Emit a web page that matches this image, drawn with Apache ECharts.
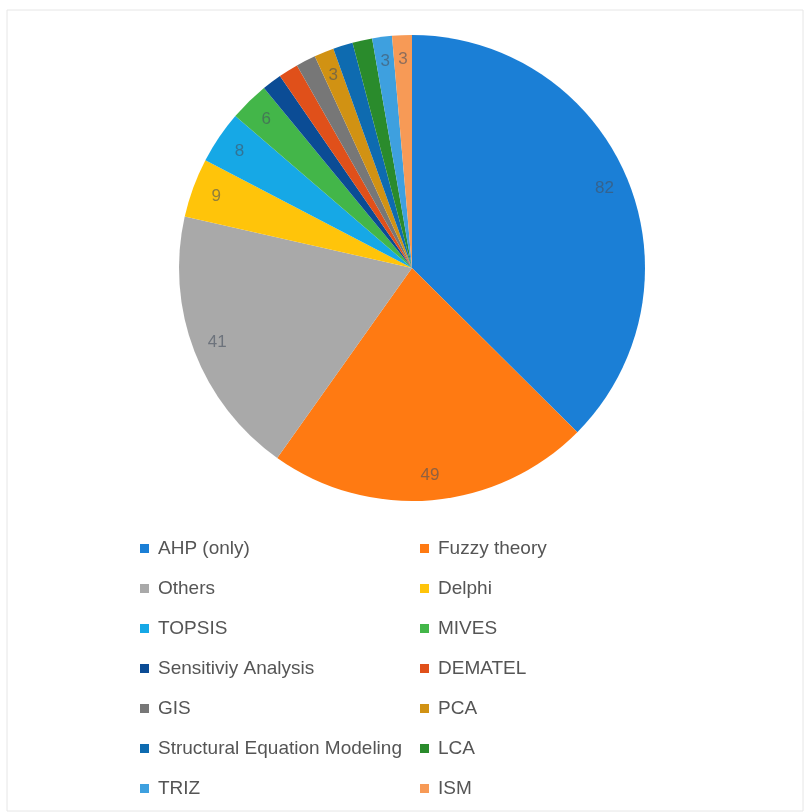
<!DOCTYPE html>
<html>
<head>
<meta charset="utf-8">
<script src="https://cdn.jsdelivr.net/npm/echarts@6/dist/echarts.min.js"></script>
<style>html,body{margin:0;padding:0;background:#fff}#c{width:805px;height:812px}</style>
</head>
<body>
<div id="c"></div>
<script>
const categories = ['AHP (only)','Fuzzy theory','Others','Delphi','TOPSIS','MIVES','Sensitiviy Analysis','DEMATEL','GIS','PCA','Structural Equation Modeling','LCA','TRIZ','ISM'];
const values = [82, 49, 41, 9, 8, 6, 3, 3, 3, 3, 3, 3, 3, 3];
const showLabel = [true, true, true, true, true, true, false, false, false, true, false, false, true, true];
const colors = ['#1b7fd6','#ff7a12','#a9a9a9','#ffc40a','#16a8e6','#43b649','#0b4c95','#e0501a','#777777','#d19213','#0e6bb0','#2a8b2c','#3ea0df','#f79a56'];

const leftNames = categories.filter((_, i) => i % 2 === 0);
const rightNames = categories.filter((_, i) => i % 2 === 1);

const pieData = categories.map((n, i) => ({ name: n, value: values[i], itemStyle: { color: colors[i] } }));
const labelData = categories.map((n, i) => ({
  name: n, value: values[i],
  label: { show: showLabel[i] }
}));

const chart = echarts.init(document.getElementById('c'));
const legendCommon = {
  orient: 'vertical', icon: 'rect', itemWidth: 9, itemHeight: 9, itemGap: 17,
  textStyle: { fontFamily: 'Liberation Sans, Arial, sans-serif', fontSize: 19, color: '#555555', lineHeight: 23, padding: [0,0,0,4] },
  selectedMode: false
};
chart.setOption({
  animation: false,
  backgroundColor: '#ffffff',
  graphic: [{ type: 'rect', shape: { x: 7, y: 10, width: 796, height: 801 }, style: { fill: 'none', stroke: '#e6e6e6', lineWidth: 1 }, silent: true }],
  legend: [
    Object.assign({}, legendCommon, { data: leftNames, left: 135, top: 532 }),
    Object.assign({}, legendCommon, { data: rightNames, left: 415, top: 532 })
  ],
  series: [
    {
      type: 'pie', center: [412, 268], radius: [0, 233], startAngle: 90, clockwise: true,
      data: pieData, label: { show: false }, labelLine: { show: false },
      itemStyle: { borderWidth: 0 }
    },
    {
      type: 'pie', center: [412, 268], radius: [178, 233], startAngle: 90, clockwise: true,
      data: labelData, silent: true, legendHoverLink: false,
      itemStyle: { color: 'rgba(0,0,0,0)', borderWidth: 0 },
      labelLine: { show: false },
      label: { position: 'inside', formatter: '{c}', fontFamily: 'Liberation Sans, Arial, sans-serif', fontSize: 17, color: 'rgba(70,80,95,0.6)' }
    }
  ]
});
</script>
</body>
</html>
